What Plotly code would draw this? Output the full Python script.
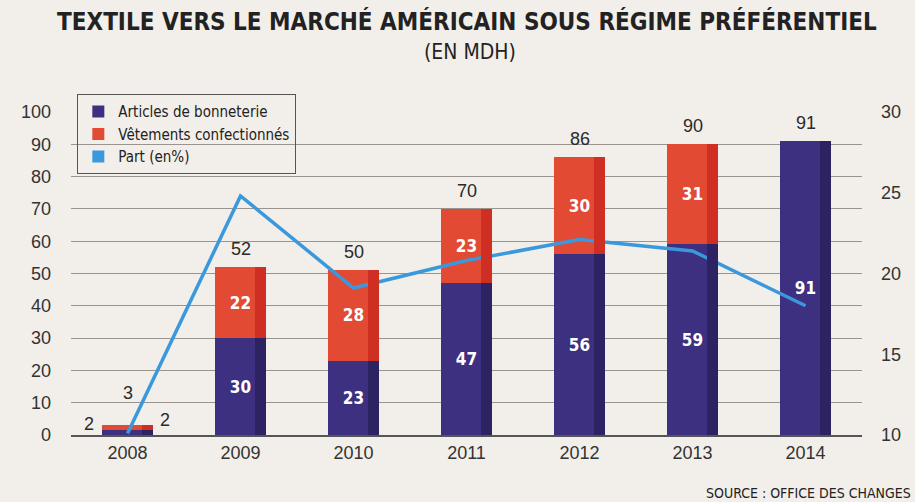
import plotly.graph_objects as go

years = ["2008", "2009", "2010", "2011", "2012", "2013", "2014"]
bonneterie = [1.6, 30, 23, 47, 56, 59, 91]
vetements = [1.6, 22, 28, 23, 30, 31, 0]
bonneterie_labels = ["", "30", "23", "47", "56", "59", "91"]
vetements_labels = ["", "22", "28", "23", "30", "31", ""]
total_labels = ["3", "52", "50", "70", "86", "90", "91"]
part = [10.1, 24.8, 19.1, 20.8, 22.1, 21.4, 18.0]
left_ticks = [0, 10, 20, 30, 40, 50, 60, 70, 80, 90, 100]
right_ticks = [10, 15, 20, 25, 30]

NAVY = "#3d3080"
NAVY_SIDE = "#2d2363"
RED = "#e24a33"
RED_SIDE = "#cf2f22"
LINE = "#3a98dc"
BG = "#f2eee9"
NARROW = "DejaVu Sans Condensed, Roboto Condensed, Liberation Sans, sans-serif"
SANS = "Liberation Sans, Arial, sans-serif"

fig = go.Figure()
fig.add_trace(go.Bar(x=years, y=bonneterie, name="Articles de bonneterie",
                     marker=dict(color=NAVY, line=dict(width=0)),
                     text=bonneterie_labels, textposition="inside", insidetextanchor="middle",
                     textfont=dict(color="white", size=17, family=NARROW, weight="bold"),
                     textangle=0))
fig.add_trace(go.Bar(x=years, y=vetements, name="Vêtements confectionnés",
                     marker=dict(color=RED, line=dict(width=0)),
                     text=vetements_labels, textposition="inside", insidetextanchor="middle",
                     textfont=dict(color="white", size=17, family=NARROW, weight="bold"),
                     textangle=0))
# darker right-hand faces (3D look)
fig.add_trace(go.Bar(x=years, y=bonneterie, xaxis="x2", showlegend=False, hoverinfo="skip",
                     width=0.1, offset=0.13, marker=dict(color=NAVY_SIDE, line=dict(width=0))))
fig.add_trace(go.Bar(x=years, y=vetements, xaxis="x2", showlegend=False, hoverinfo="skip",
                     width=0.1, offset=0.13, marker=dict(color=RED_SIDE, line=dict(width=0))))
fig.add_trace(go.Scatter(x=years, y=part, yaxis="y2", mode="lines", showlegend=False,
                         line=dict(color=LINE, width=3.5)))
fig.add_trace(go.Scatter(x=[None], y=[None], yaxis="y2", mode="markers", name="Part (en%)",
                         marker=dict(color=LINE, symbol="square", size=12)))

totals = [b + v for b, v in zip(bonneterie, vetements)]
for i, (t, lab) in enumerate(zip(totals, total_labels)):
    fig.add_annotation(x=i, y=t, text=lab, showarrow=False, yanchor="bottom",
                       yshift=20 if i == 0 else 6,
                       font=dict(size=18, color="#2a2a2a", family=SANS))
# 2008 side labels
fig.add_annotation(x=0, y=bonneterie[0], text="2", showarrow=False, xshift=-39, yshift=6,
                   font=dict(size=18, color="#2a2a2a", family=SANS))
fig.add_annotation(x=0, y=bonneterie[0], text="2", showarrow=False, xshift=37, yshift=10,
                   font=dict(size=18, color="#2a2a2a", family=SANS))

fig.update_layout(
    width=915, height=502,
    margin=dict(l=71, r=53, t=112, b=67),
    paper_bgcolor=BG, plot_bgcolor=BG,
    barmode="stack", bargap=0.54,
    showlegend=True,
    legend=dict(x=0.008, y=1.055, xanchor="left", yanchor="top",
                bgcolor="rgba(0,0,0,0)", bordercolor="#555", borderwidth=1,
                font=dict(size=15, family=NARROW, color="#222"),
                tracegroupgap=0, itemsizing="constant", traceorder="normal",
                itemwidth=30),
    xaxis=dict(type="category", showgrid=False, showline=True, linecolor="#555", linewidth=2,
               ticks="", tickfont=dict(size=18, family=SANS, color="#333")),
    xaxis2=dict(type="category", overlaying="x", matches="x", visible=False),
    yaxis=dict(range=[0, 100], tickvals=left_ticks, showgrid=True, gridcolor="#9a948e",
               gridwidth=1, zeroline=False, showline=False,
               tickfont=dict(size=18, family=SANS, color="#333"), ticklabelstandoff=19),
    yaxis2=dict(range=[10, 30], tickvals=right_ticks, overlaying="y", side="right",
                showgrid=False, zeroline=False, showline=False,
                tickfont=dict(size=18, family=SANS, color="#333"), ticklabelstandoff=18),
)
fig.add_annotation(xref="paper", yref="paper", x=0.501, y=1.0, xanchor="center", yanchor="bottom",
                   yshift=74, text="<b>TEXTILE VERS LE MARCHÉ AMÉRICAIN SOUS RÉGIME PRÉFÉRENTIEL</b>",
                   showarrow=False, font=dict(size=24, family=NARROW, color="#222"))
fig.add_annotation(xref="paper", yref="paper", x=0.505, y=1.0, xanchor="center", yanchor="bottom",
                   yshift=46, text="(EN MDH)",
                   showarrow=False, font=dict(size=21, family=NARROW, color="#222"))
fig.add_annotation(xref="paper", yref="paper", x=1.065, y=0, xanchor="right", yanchor="top",
                   yshift=-48, text="SOURCE : OFFICE DES CHANGES", showarrow=False,
                   font=dict(size=14, family=NARROW, color="#222"))

fig.write_html("out.html")
